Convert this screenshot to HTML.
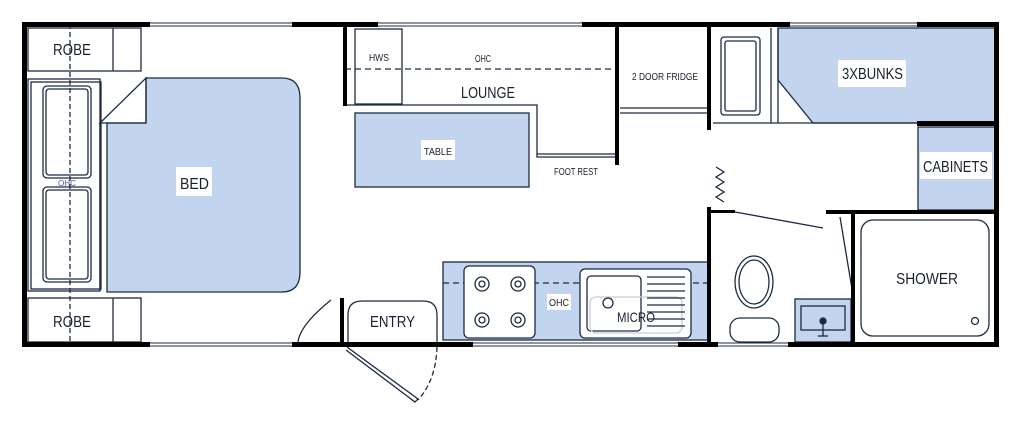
<!DOCTYPE html>
<html><head><style>body{margin:0;background:#fff}svg{display:block}text{font-family:"Liberation Sans Narrow","Liberation Sans",sans-serif;fill:#1a2030}</style></head><body>
<svg width="1024" height="421" viewBox="0 0 1024 421" xmlns="http://www.w3.org/2000/svg">
<g fill="none" stroke="#1c2a44" stroke-width="1.3">
<path d="M146,78 H282 Q300,78 300,98 V272 Q300,292 282,292 H107 V123 H146 Z" fill="#c3d4ee"/>
<rect x="355" y="113" width="174" height="74" fill="#c3d4ee"/>
<rect x="443" y="262" width="266" height="78" fill="#c3d4ee"/>
<path d="M778,28 H995 V123 H813 L778,80 Z" fill="#c3d4ee"/>
<rect x="918" y="127" width="77" height="83" fill="#c3d4ee"/>
<rect x="795" y="299" width="56" height="43" fill="#c3d4ee"/>
<rect x="28" y="28" width="113" height="43"/><line x1="113" y1="28" x2="113" y2="71"/>
<rect x="28" y="298" width="113" height="44"/><line x1="113" y1="298" x2="113" y2="342"/>
<rect x="28" y="79" width="72" height="212"/><rect x="31" y="82" width="70" height="207"/>
<path d="M100,123 L146,78 V123 Z"/><line x1="100" y1="123" x2="100" y2="291"/>
<rect x="43" y="86" width="48" height="92" rx="4"/><rect x="46" y="89" width="42" height="86" rx="3"/>
<rect x="43" y="187" width="48" height="95" rx="4"/><rect x="46" y="190" width="42" height="89" rx="3"/>
<line x1="70" y1="24" x2="70" y2="345" stroke-dasharray="5,3"/>
<rect x="355" y="29" width="47" height="75"/>
<line x1="345" y1="69" x2="617" y2="69" stroke-dasharray="6,4"/>
<path d="M345,105 H537 V157 H615"/><line x1="537" y1="154" x2="615" y2="154"/>
<line x1="620" y1="108" x2="708" y2="108"/><line x1="620" y1="113" x2="708" y2="113"/>
<line x1="443" y1="283" x2="709" y2="283" stroke-dasharray="6,4"/>
<rect x="464" y="266" width="71" height="72" rx="5" fill="#fff"/>
<g fill="#fff"><circle cx="482" cy="284" r="7"/><circle cx="518" cy="284" r="7"/><circle cx="482" cy="320" r="7"/><circle cx="518" cy="320" r="7"/></g>
<g><circle cx="482" cy="284" r="3"/><circle cx="518" cy="284" r="3"/><circle cx="482" cy="320" r="3"/><circle cx="518" cy="320" r="3"/></g>
<rect x="580" y="269" width="111" height="69" rx="5" fill="#fff"/>
<rect x="587" y="276" width="54" height="55" rx="4"/>
<rect x="590" y="297" width="92" height="36" rx="6" stroke="#c8cdd6"/>
<circle cx="608" cy="303" r="5"/>
<g><line x1="647" y1="277" x2="685" y2="277"/><line x1="647" y1="284" x2="685" y2="284"/><line x1="647" y1="291" x2="685" y2="291"/><line x1="647" y1="298" x2="685" y2="298"/><line x1="647" y1="305" x2="685" y2="305"/><line x1="647" y1="312" x2="685" y2="312"/><line x1="647" y1="319" x2="685" y2="319"/><line x1="647" y1="326" x2="685" y2="326"/></g>
<path d="M348,345 V315 Q348,301 362,301 H423 Q437,301 437,315 V345"/>
<path d="M347,347 L418,399 L415,402 L346,350"/>
<path d="M437,347 Q436,380 418,400" stroke-dasharray="5,3"/>
<path d="M298,342 Q300,325 331,300"/>
<line x1="771" y1="28" x2="771" y2="123"/><line x1="778" y1="28" x2="778" y2="123"/>
<line x1="713" y1="123" x2="917" y2="123"/>
<rect x="721" y="37" width="39" height="78" rx="3"/><rect x="725" y="41" width="31" height="70" rx="2"/>
<path d="M716,167 L724,172 L716,177 L724,182 L716,187 L724,192 L716,197 L724,202"/>
<line x1="735" y1="212" x2="823" y2="228"/><line x1="840" y1="217" x2="853" y2="295"/>
<rect x="861" y="220" width="128" height="116" rx="12"/>
<circle cx="975" cy="321" r="3.5"/>
<ellipse cx="754" cy="282" rx="19" ry="26" fill="#fff"/>
<ellipse cx="754" cy="282" rx="15" ry="22"/>
<rect x="730" y="318" width="49" height="24" rx="10" fill="#fff"/>
<rect x="801" y="306" width="44" height="24"/>
<circle cx="823" cy="321" r="3" fill="#1c2a44"/><line x1="823" y1="324" x2="823" y2="336"/><line x1="818" y1="336" x2="828" y2="336"/>
</g>
<g fill="#000">
<rect x="22" y="22" width="128" height="5"/><rect x="292" y="22" width="86" height="5"/><rect x="582" y="22" width="208" height="5"/><rect x="917" y="22" width="82" height="5"/>
<rect x="22" y="342" width="128" height="5"/><rect x="292" y="342" width="181" height="5"/><rect x="678" y="342" width="40" height="5"/><rect x="788" y="342" width="211" height="5"/>
<rect x="22" y="22" width="5" height="325"/><rect x="994" y="22" width="5" height="325"/>
<rect x="343" y="24" width="4" height="82"/><rect x="615" y="24" width="4" height="141"/><rect x="707" y="24" width="4" height="106"/>
<rect x="340" y="298" width="4" height="47"/>
<rect x="917" y="121" width="80" height="5"/>
<rect x="707" y="207" width="4" height="138"/><rect x="707" y="210" width="28" height="3"/><rect x="826" y="210" width="171" height="4"/>
<rect x="851" y="213" width="4" height="132"/>
</g>
<g stroke="#1c2a44" stroke-width="1">
<line x1="150" y1="23" x2="292" y2="23"/><line x1="150" y1="26" x2="292" y2="26"/>
<line x1="378" y1="23" x2="582" y2="23"/><line x1="378" y1="26" x2="582" y2="26"/>
<line x1="790" y1="23" x2="917" y2="23"/><line x1="790" y1="26" x2="917" y2="26"/>
<line x1="150" y1="343" x2="292" y2="343"/><line x1="150" y1="346" x2="292" y2="346"/>
<line x1="473" y1="343" x2="678" y2="343"/><line x1="473" y1="346" x2="678" y2="346"/>
<line x1="718" y1="343" x2="788" y2="343"/><line x1="718" y1="346" x2="788" y2="346"/>
</g>
<g fill="#fff"><rect x="176" y="167" width="36" height="29"/><rect x="421" y="140" width="34" height="20"/><rect x="547" y="294" width="24" height="16"/><rect x="838" y="60" width="68" height="27"/><rect x="920" y="152" width="72" height="27"/></g>
<text x="53" y="55" font-size="16" textLength="38" lengthAdjust="spacingAndGlyphs">ROBE</text>
<text x="53" y="327" font-size="16" textLength="38" lengthAdjust="spacingAndGlyphs">ROBE</text>
<text x="180" y="189" font-size="16" textLength="29" lengthAdjust="spacingAndGlyphs">BED</text>
<text x="58" y="186" font-size="8" textLength="18" lengthAdjust="spacingAndGlyphs" style="fill:#3a5a9a">OHC</text>
<text x="369" y="61" font-size="10" textLength="20" lengthAdjust="spacingAndGlyphs">HWS</text>
<text x="475" y="62" font-size="10" textLength="16" lengthAdjust="spacingAndGlyphs">OHC</text>
<text x="461" y="98" font-size="16" textLength="54" lengthAdjust="spacingAndGlyphs">LOUNGE</text>
<text x="424" y="155" font-size="10" textLength="28" lengthAdjust="spacingAndGlyphs">TABLE</text>
<text x="554" y="175" font-size="10" textLength="44" lengthAdjust="spacingAndGlyphs">FOOT REST</text>
<text x="632" y="80" font-size="10" textLength="66" lengthAdjust="spacingAndGlyphs">2 DOOR FRIDGE</text>
<text x="549" y="306" font-size="10" textLength="20" lengthAdjust="spacingAndGlyphs">OHC</text>
<text x="617" y="322" font-size="14" textLength="38" lengthAdjust="spacingAndGlyphs">MICRO</text>
<text x="370" y="327" font-size="16" textLength="45" lengthAdjust="spacingAndGlyphs">ENTRY</text>
<text x="842" y="79" font-size="16" textLength="61" lengthAdjust="spacingAndGlyphs">3XBUNKS</text>
<text x="923" y="172" font-size="16" textLength="65" lengthAdjust="spacingAndGlyphs">CABINETS</text>
<text x="896" y="284" font-size="16" textLength="62" lengthAdjust="spacingAndGlyphs">SHOWER</text>
</svg>
</body></html>
